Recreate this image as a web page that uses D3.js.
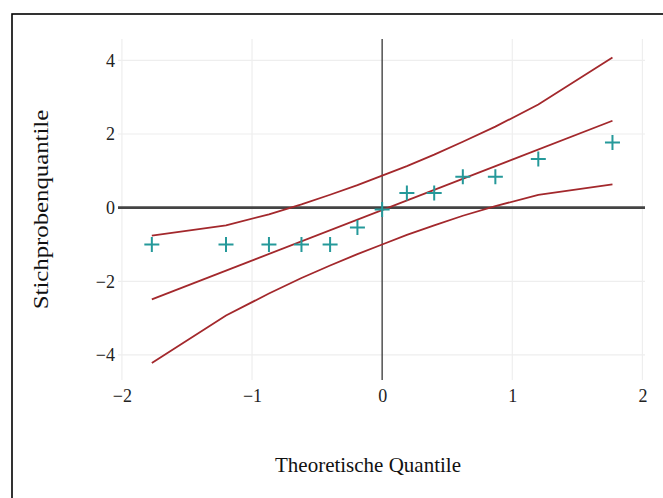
<!DOCTYPE html>
<html><head><meta charset="utf-8">
<script src="https://cdn.jsdelivr.net/npm/d3@7"></script>
<style>body{margin:0;background:#fff;overflow:hidden}</style>
</head><body><svg id="c" width="663" height="498"></svg>
<script>
const theoretical = [-1.77,-1.2,-0.87,-0.62,-0.4,-0.19,0,0.19,0.4,0.62,0.87,1.2,1.77];
const sample      = [-1,-1,-1,-1,-1,-0.54,-0.05,0.4,0.4,0.84,0.84,1.32,1.77];
const refX        = [-1.77, 1.77];
const refY        = [-2.49, 2.36];
const upperBand   = [-0.76,-0.48,-0.18,0.09,0.35,0.61,0.87,1.13,1.44,1.79,2.2,2.8,4.08];
const lowerBand   = [-4.22,-2.93,-2.33,-1.91,-1.57,-1.26,-1.0,-0.74,-0.48,-0.22,0.04,0.35,0.63];
const xTicks = [-2,-1,0,1,2];
const yTicks = [-4,-2,0,2,4];
const xTitle = "Theoretische Quantile";
const yTitle = "Stichprobenquantile";

const svg = d3.select("#c");
const L=118, R=645, T=39, B=380;
const x = d3.scaleLinear().domain([-2.03,2.02]).range([L,R]);
const y = d3.scaleLinear().domain([-4.68,4.58]).range([B,T]);
const font = "'Liberation Serif','Times New Roman',serif";

// outer frame
svg.append("rect").attr("x",12).attr("y",14).attr("width",720).attr("height",560)
  .attr("fill","none").attr("stroke","#000").attr("stroke-width",1.6);

// grid
const g = svg.append("g");
g.selectAll(".vg").data(xTicks.filter(d=>d!==0)).join("line")
  .attr("x1",d=>x(d)).attr("x2",d=>x(d)).attr("y1",T).attr("y2",B)
  .attr("stroke","#eeeeee").attr("stroke-width",1.2);
g.selectAll(".hg").data(yTicks.filter(d=>d!==0)).join("line")
  .attr("y1",d=>y(d)).attr("y2",d=>y(d)).attr("x1",L).attr("x2",R)
  .attr("stroke","#eeeeee").attr("stroke-width",1.2);

// zero lines
g.append("line").attr("x1",x(0)).attr("x2",x(0)).attr("y1",T).attr("y2",B)
  .attr("stroke","#444").attr("stroke-width",1.4);
g.append("line").attr("x1",L).attr("x2",R).attr("y1",y(0)).attr("y2",y(0))
  .attr("stroke","#444").attr("stroke-width",2.8);

// axes
const xa = svg.append("g").attr("transform",`translate(0,${B+4})`)
  .call(d3.axisBottom(x).tickValues(xTicks).tickSize(0).tickPadding(5).tickFormat(d3.format("d")));
xa.select(".domain").remove();
xa.attr("font-family",font).attr("font-size",18);
xa.selectAll("text").attr("fill","#222");
const ya = svg.append("g").attr("transform",`translate(${L-3},0)`)
  .call(d3.axisLeft(y).tickValues(yTicks).tickSize(0).tickPadding(0).tickFormat(d3.format("d")));
ya.select(".domain").remove();
ya.attr("font-family",font).attr("font-size",18);
ya.selectAll("text").attr("fill","#222");

// titles
svg.append("text").attr("x",368).attr("y",472).attr("text-anchor","middle")
  .attr("font-family",font).attr("font-size",21).attr("fill","#111").text(xTitle);
svg.append("text").attr("transform",`translate(48,${(T+B)/2}) scale(1,1.18) rotate(-90)`).attr("text-anchor","middle")
  .attr("font-family",font).attr("font-size",21).attr("fill","#111").text(yTitle);

// lines
const line = d3.line().x(d=>x(d[0])).y(d=>y(d[1]));
const lineColor = "#a3282c";
[theoretical.map((t,i)=>[t,upperBand[i]]),
 refX.map((t,i)=>[t,refY[i]]),
 theoretical.map((t,i)=>[t,lowerBand[i]])].forEach(pts=>{
  svg.append("path").attr("d",line(pts)).attr("fill","none")
    .attr("stroke",lineColor).attr("stroke-width",1.8);
});

// markers
const s = 7.5;
const mk = svg.append("g").attr("stroke","#25999a").attr("stroke-width",2);
theoretical.forEach((t,i)=>{
  const cx = x(t), cy = y(sample[i]);
  mk.append("path").attr("d",`M${cx-s},${cy}H${cx+s}M${cx},${cy-s}V${cy+s}`);
});
</script></body></html>
